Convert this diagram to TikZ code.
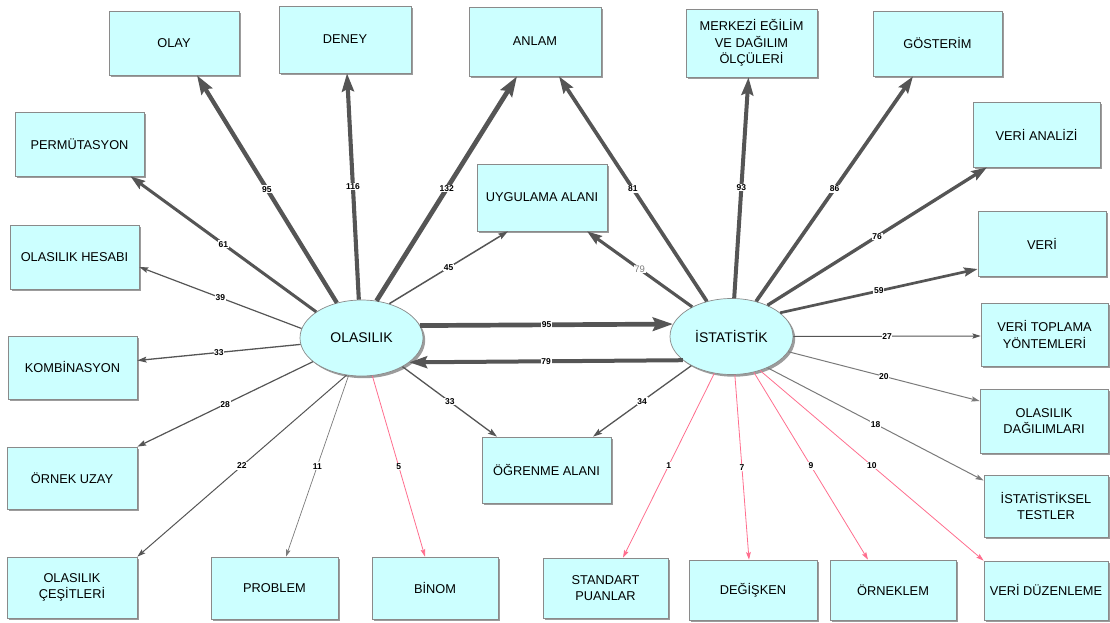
\documentclass[tikz,border=0pt]{standalone}
\usepackage{fontspec}
\setmainfont{Liberation Sans}
\usetikzlibrary{arrows.meta,shapes.geometric,shadows}

\definecolor{boxfill}{HTML}{CCFFFF}
\definecolor{boxline}{HTML}{8A8A8A}
\definecolor{shade}{HTML}{9C9C9C}
\definecolor{edgedark}{HTML}{555555}
\definecolor{edgelight}{HTML}{7A7A7A}
\definecolor{edgepink}{HTML}{FF6E8E}

\tikzset{
  concept/.style={rectangle, draw=boxline, line width=0.7pt, fill=boxfill,
    align=center, inner sep=2pt, font=\fontsize{12.8}{16.5}\selectfont,
    drop shadow={shadow xshift=2.2pt, shadow yshift=-2.2pt, fill=shade, opacity=1}},
  dims/.style 2 args={minimum width=#1pt, minimum height=#2pt},
  hub/.style={ellipse, draw=boxline, line width=0.7pt, fill=boxfill,
    minimum width=123pt, minimum height=76pt, inner sep=0pt,
    font=\fontsize{14}{16}\selectfont,
    drop shadow={shadow xshift=2.2pt, shadow yshift=-2.2pt, fill=shade, opacity=1}},
  link/.style={draw=edgedark, line width=#1pt,
    -{Stealth[length=5pt 3.2, width=3pt 2.2, inset=1pt 0.4]}},
  lightedge/.style={draw=edgelight},
  pinkedge/.style={draw=edgepink},
  lbl/.style={fill=white, inner sep=0.7pt, text=black,
    font=\fontsize{8.5}{9}\selectfont\bfseries},
  greylbl/.style={fill=white, inner sep=0.7pt, text=gray,
    font=\fontsize{9.5}{10}\selectfont},
}

\begin{document}
\begin{tikzpicture}[x=1pt,y=-1pt]
\useasboundingbox (0,0) rectangle (1110,623);

% the two central concepts
\node[hub] (olas) at (361.5,338) {OLASILIK};
\node[hub] (ist)  at (731.5,336.5) {İSTATİSTİK};

% top row
\node[concept, dims={130}{64}] (olay)  at (174,43)     {OLAY};
\node[concept, dims={132}{67}] (deney) at (345,39.5)   {DENEY};
\node[concept, dims={132}{69}] (anlam) at (535,41.5)   {ANLAM};
\node[concept, dims={131}{68}] (merk)  at (751.5,43)   {MERKEZİ EĞİLİM\\VE DAĞILIM\\ÖLÇÜLERİ};
\node[concept, dims={129}{65}] (gost)  at (937.5,43.5) {GÖSTERİM};

% left column
\node[concept, dims={129}{64}] (perm)   at (79.5,144)  {PERMÜTASYON};
\node[concept, dims={129}{64}] (ohes)   at (74.5,257)  {OLASILIK HESABI};
\node[concept, dims={129}{63}] (komb)   at (72.5,367.5){KOMBİNASYON};
\node[concept, dims={130}{62}] (ornek)  at (72,478)    {ÖRNEK UZAY};
\node[concept, dims={130}{61}] (ocesit) at (72,587.5)  {OLASILIK\\ÇEŞİTLERİ};

% right column
\node[concept, dims={127}{65}] (vana)  at (1036.5,134.5) {VERİ ANALİZİ};
\node[concept, dims={128}{65}] (veri)  at (1042,243.5)   {VERİ};
\node[concept, dims={127}{63}] (vtop)  at (1044.5,334.5) {VERİ TOPLAMA\\YÖNTEMLERİ};
\node[concept, dims={128}{64}] (odag)  at (1044,421)     {OLASILIK\\DAĞILIMLARI};
\node[concept, dims={124}{62}] (itest) at (1046,506)     {İSTATİSTİKSEL\\TESTLER};

% middle
\node[concept, dims={130}{67}] (uyg) at (542,197.5) {UYGULAMA ALANI};
\node[concept, dims={129}{66}] (ogr) at (546.5,470) {ÖĞRENME ALANI};

% bottom row
\node[concept, dims={127}{62}] (problem)  at (274.5,588)  {PROBLEM};
\node[concept, dims={126}{62}] (binom)    at (435,588)    {BİNOM};
\node[concept, dims={125}{60}] (std)      at (605.5,588)  {STANDART\\PUANLAR};
\node[concept, dims={128}{60}] (deg)      at (753,590)    {DEĞİŞKEN};
\node[concept, dims={126}{60}] (orneklem) at (893,590)    {ÖRNEKLEM};
\node[concept, dims={124}{59}] (vduz)     at (1046,590.5) {VERİ DÜZENLEME};

% links leaving OLASILIK
\draw[link=4.3] (olas.125) -- node[lbl]{95} ([xshift=23pt]olay.south);
\draw[link=4.1] (olas.94) -- node[lbl]{116} ([xshift=2pt]deney.south);
\draw[link=4.7] (olas.68) -- node[lbl]{132} ([xshift=-18pt]anlam.south);
\draw[link=3.0] (olas.150) -- node[lbl]{61} ([xshift=51pt]perm.south);
\draw[link=1.2] (olas.171.4) -- node[lbl]{39} ([yshift=-10pt]ohes.east);
\draw[link=1.5] (olas.51) -- node[lbl]{45} ([xshift=-34pt]uyg.south);
\draw[link=1.3] (olas.186.3) -- node[lbl]{33} ([yshift=7pt]komb.east);
\draw[link=1.2] (olas.206.8) -- node[lbl]{28} (ornek.north east);
\draw[link=1.0] (olas.248.4) -- node[lbl]{22} (ocesit.north east);
\draw[link=0.7, lightedge] (olas.251.3) -- node[lbl]{11} ([xshift=11.5pt]problem.north);
\draw[link=0.8, pinkedge] (olas.286) -- node[lbl]{5} ([xshift=-10pt]binom.north);
\draw[link=1.3] (olas.325) -- node[lbl]{33} ([xshift=-49.5pt]ogr.north);
\draw[link=4.7] (olas.12.7) -- node[lbl]{95} (ist.168.9);

% links leaving İSTATİSTİK
\draw[link=4.0] (ist.206.1) -- node[lbl]{79} (olas.333.3);
\draw[link=3.7] (ist.125.5) -- node[lbl]{81} ([xshift=24pt]anlam.south);
\draw[link=3.1] (ist.143.2) -- node[greylbl]{79} ([xshift=45pt]uyg.south);
\draw[link=4.0] (ist.86) -- node[lbl]{93} ([xshift=-3pt]merk.south);
\draw[link=3.7] (ist.55.7) -- node[lbl]{86} ([xshift=-24.5pt]gost.south);
\draw[link=3.3] (ist.41.6) -- node[lbl]{76} ([xshift=-49.5pt]vana.south);
\draw[link=2.7] (ist.26.3) -- node[lbl]{59} ([yshift=-25.5pt]veri.west);
\draw[link=1.0] (ist.east) -- node[lbl]{27} ([yshift=-1.5pt]vtop.west);
\draw[link=1.0, lightedge] (ist.345.2) -- node[lbl]{20} ([yshift=20pt]odag.west);
\draw[link=1.0, lightedge] (ist.319) -- node[lbl]{18} ([yshift=25.5pt]itest.west);
\draw[link=1.3] (ist.216.3) -- node[lbl]{34} ([xshift=46.5pt]ogr.north);
\draw[link=0.8, pinkedge] (ist.245.6) -- node[lbl]{1} ([xshift=17.5pt]std.north);
\draw[link=0.8, pinkedge] (ist.275) -- node[lbl]{7} ([xshift=-4pt]deg.north);
\draw[link=0.8, pinkedge] (ist.302.4) -- node[lbl]{9} ([xshift=-25pt]orneklem.north);
\draw[link=0.8, pinkedge] (ist.310.5) -- node[lbl]{10} (vduz.north west);
\end{tikzpicture}
\end{document}
